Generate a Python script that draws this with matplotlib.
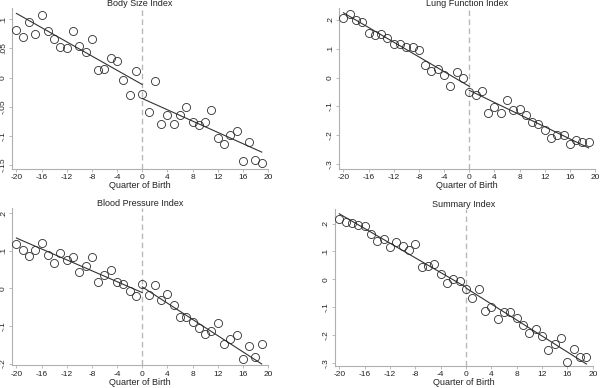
import numpy as np
import matplotlib as mpl
mpl.use('Agg')
import matplotlib.pyplot as plt

plt.rcParams['font.family'] = ['Liberation Sans', 'DejaVu Sans']

# quarter of birth relative to cutoff
quarters = list(range(-20, 20))

body_size = [0.082, 0.070, 0.095, 0.075, 0.107, 0.079, 0.066, 0.052, 0.051, 0.079,
             0.054, 0.043, 0.066, 0.013, 0.015, 0.033, 0.029, -0.004, -0.030, 0.011,
             -0.029, -0.059, -0.006, -0.079, -0.065, -0.079, -0.065, -0.050, -0.077, -0.082,
             -0.077, -0.055, -0.104, -0.114, -0.099, -0.091, -0.144, -0.110, -0.141, -0.147]
lung = [0.206, 0.221, 0.200, 0.193, 0.154, 0.149, 0.152, 0.138, 0.116, 0.118,
        0.107, 0.105, 0.095, 0.044, 0.023, 0.029, 0.009, -0.028, 0.018, -0.001,
        -0.051, -0.061, -0.045, -0.123, -0.103, -0.121, -0.078, -0.113, -0.110, -0.130,
        -0.155, -0.162, -0.183, -0.211, -0.200, -0.199, -0.230, -0.216, -0.223, -0.223]
blood = [0.119, 0.102, 0.086, 0.101, 0.121, 0.090, 0.067, 0.093, 0.075, 0.084,
         0.044, 0.059, 0.083, 0.018, 0.036, 0.048, 0.018, 0.012, -0.007, -0.019,
         0.012, -0.017, 0.009, -0.032, -0.016, -0.044, -0.075, -0.077, -0.090, -0.104,
         -0.122, -0.114, -0.091, -0.148, -0.135, -0.125, -0.189, -0.153, -0.183, -0.149]
summary = [0.218, 0.207, 0.201, 0.194, 0.193, 0.162, 0.138, 0.144, 0.117, 0.133,
           0.120, 0.104, 0.125, 0.045, 0.047, 0.056, 0.018, -0.012, 0.001, -0.005,
           -0.036, -0.065, -0.033, -0.112, -0.098, -0.143, -0.116, -0.117, -0.138, -0.164,
           -0.192, -0.176, -0.204, -0.254, -0.232, -0.208, -0.296, -0.250, -0.277, -0.278]

# fitted lines: (x0, x1) and (y0, y1) for each side of the cutoff
left_x = [-20, 0]
right_x = [0, 19]
body_fit = ([0.110, -0.012], [-0.036, -0.128])
lung_fit = ([0.225, -0.030], [-0.044, -0.244])
blood_fit = ([0.134, -0.011], [0.004, -0.201])
summary_fit = ([0.235, -0.028], [-0.031, -0.303])

titles = ['Body Size Index', 'Lung Function Index', 'Blood Pressure Index', 'Summary Index']
xticks = [-20, -16, -12, -8, -4, 0, 4, 8, 12, 16, 20]
body_yticks = [0.1, 0.05, 0, -0.05, -0.1, -0.15]
body_ylabels = ['.1', '.05', '0', '-.05', '-.1', '-.15']
lung_yticks = [0.2, 0.1, 0, -0.1, -0.2, -0.3]
lung_ylabels = ['.2', '.1', '0', '-.1', '-.2', '-.3']
blood_yticks = [0.2, 0.1, 0, -0.1, -0.2]
blood_ylabels = ['.2', '.1', '0', '-.1', '-.2']
summary_yticks = [0.2, 0.1, 0, -0.1, -0.2, -0.3]
summary_ylabels = ['.2', '.1', '0', '-.1', '-.2', '-.3']

panels = [
    (body_size, body_fit, body_yticks, body_ylabels, (-0.157, 0.119), [0.020, 0.5644, 0.4267, 0.4146]),
    (lung, lung_fit, lung_yticks, lung_ylabels, (-0.317, 0.241), [0.565, 0.5644, 0.4267, 0.4146]),
    (blood, blood_fit, blood_yticks, blood_ylabels, (-0.205, 0.214), [0.020, 0.058, 0.4267, 0.406]),
    (summary, summary_fit, summary_yticks, summary_ylabels, (-0.311, 0.253), [0.558, 0.056, 0.430, 0.406]),
]

fig = plt.figure(figsize=(6, 3.88), dpi=100)
spine_col = '#b0b0b0'

for (vals, fit, yt, yl, ylim, rect), title in zip(panels, titles):
    ax = fig.add_axes(rect)
    ax.axvline(0, color='#b8b8b8', lw=1.0, ls=(0, (4, 2.5)), zorder=1)
    ax.plot(left_x, fit[0], color='#333333', lw=0.8, zorder=2)
    ax.plot(right_x, fit[1], color='#333333', lw=0.8, zorder=2)
    ax.plot(quarters, vals, 'o', ms=5.8, mfc='none', mec='#2a2a2a', mew=0.6, zorder=3)
    ax.set_xlim(-20.7, 20)
    ax.set_ylim(*ylim)
    ax.set_xticks(xticks)
    ax.set_xticklabels([str(t) for t in xticks])
    ax.set_yticks(yt)
    ax.set_yticklabels(yl, rotation=90, va='center')
    for s in ['top', 'right']:
        ax.spines[s].set_visible(False)
    for s in ['left', 'bottom']:
        ax.spines[s].set_color(spine_col)
        ax.spines[s].set_linewidth(0.8)
    ax.tick_params(axis='both', colors=spine_col, labelcolor='#222222', labelsize=6,
                   length=2.5, width=0.6, pad=1.2)
    ax.set_xlabel('Quarter of Birth', fontsize=6.5, labelpad=0, color='#222222')
    ax.set_title(title, fontsize=6.5, pad=1, color='#222222')

plt.savefig('out.png', dpi=100)
